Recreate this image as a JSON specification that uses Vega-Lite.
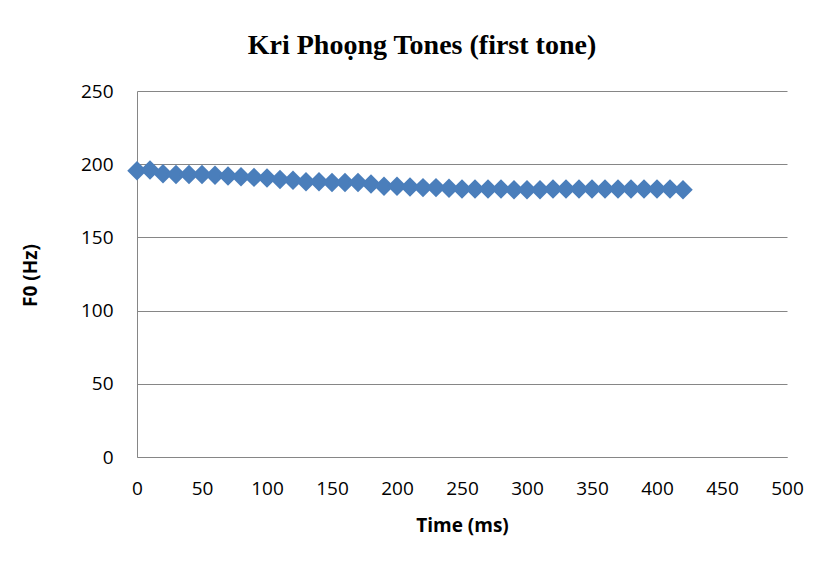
{
  "$schema": "https://vega.github.io/schema/vega-lite/v6.json",
  "autosize": "none",
  "width": 650,
  "height": 366,
  "padding": {"left": 137, "top": 91, "right": 34, "bottom": 108},
  "background": "white",
  "title": {
    "text": "Kri Phoọng Tones (first tone)",
    "font": "Liberation Serif",
    "fontSize": 28,
    "fontWeight": "bold",
    "color": "#000000",
    "anchor": "middle",
    "dx": -40,
    "offset": 22
  },
  "data": {
    "values": [
      {"t": 0, "f0": 195.5}, {"t": 10, "f0": 196}, {"t": 20, "f0": 193.5}, {"t": 30, "f0": 193},
      {"t": 40, "f0": 193}, {"t": 50, "f0": 193}, {"t": 60, "f0": 192.5}, {"t": 70, "f0": 192},
      {"t": 80, "f0": 191.5}, {"t": 90, "f0": 191}, {"t": 100, "f0": 190.5}, {"t": 110, "f0": 189.5},
      {"t": 120, "f0": 189}, {"t": 130, "f0": 188}, {"t": 140, "f0": 188}, {"t": 150, "f0": 187.5},
      {"t": 160, "f0": 187.5}, {"t": 170, "f0": 187.5}, {"t": 180, "f0": 186.5}, {"t": 190, "f0": 185},
      {"t": 200, "f0": 185}, {"t": 210, "f0": 184.5}, {"t": 220, "f0": 184}, {"t": 230, "f0": 184},
      {"t": 240, "f0": 183.5}, {"t": 250, "f0": 183}, {"t": 260, "f0": 183}, {"t": 270, "f0": 183},
      {"t": 280, "f0": 183}, {"t": 290, "f0": 182.5}, {"t": 300, "f0": 182.5}, {"t": 310, "f0": 182.5},
      {"t": 320, "f0": 183}, {"t": 330, "f0": 183}, {"t": 340, "f0": 183}, {"t": 350, "f0": 183},
      {"t": 360, "f0": 183}, {"t": 370, "f0": 183}, {"t": 380, "f0": 183}, {"t": 390, "f0": 183},
      {"t": 400, "f0": 183}, {"t": 410, "f0": 183}, {"t": 420, "f0": 182.5}
    ]
  },
  "mark": {"type": "point", "shape": "diamond", "filled": true, "size": 380, "color": "#4A7EBB", "opacity": 1},
  "encoding": {
    "x": {
      "field": "t", "type": "quantitative",
      "scale": {"domain": [0, 500], "nice": false},
      "axis": {
        "title": "Time (ms)", "values": [0, 50, 100, 150, 200, 250, 300, 350, 400, 450, 500],
        "grid": false, "ticks": false, "domainColor": "#868686", "domainWidth": 1,
        "labelFont": "Open Sans", "labelFontSize": 19, "labelColor": "#000000", "labelPadding": 22,
        "labelFlush": false,
        "titleFont": "Open Sans", "titleFontSize": 19, "titleFontWeight": "bold", "titleColor": "#000000",
        "titleX": 325, "titleY": 68, "titleBaseline": "middle", "titleAlign": "center"
      }
    },
    "y": {
      "field": "f0", "type": "quantitative",
      "scale": {"domain": [0, 250], "nice": false, "zero": true},
      "axis": {
        "title": "F0 (Hz)", "values": [0, 50, 100, 150, 200, 250],
        "grid": true, "gridColor": "#868686", "gridWidth": 1, "ticks": false,
        "domainColor": "#868686", "domainWidth": 1,
        "labelFont": "Open Sans", "labelFontSize": 19, "labelColor": "#000000", "labelPadding": 24,
        "labelFlush": false,
        "titleFont": "Open Sans", "titleFontSize": 19, "titleFontWeight": "bold", "titleColor": "#000000",
        "titleX": -107, "titleY": 184, "titleBaseline": "middle", "titleAlign": "center", "titleAngle": -90
      }
    }
  },
  "config": {
    "view": {"stroke": null}
  }
}
